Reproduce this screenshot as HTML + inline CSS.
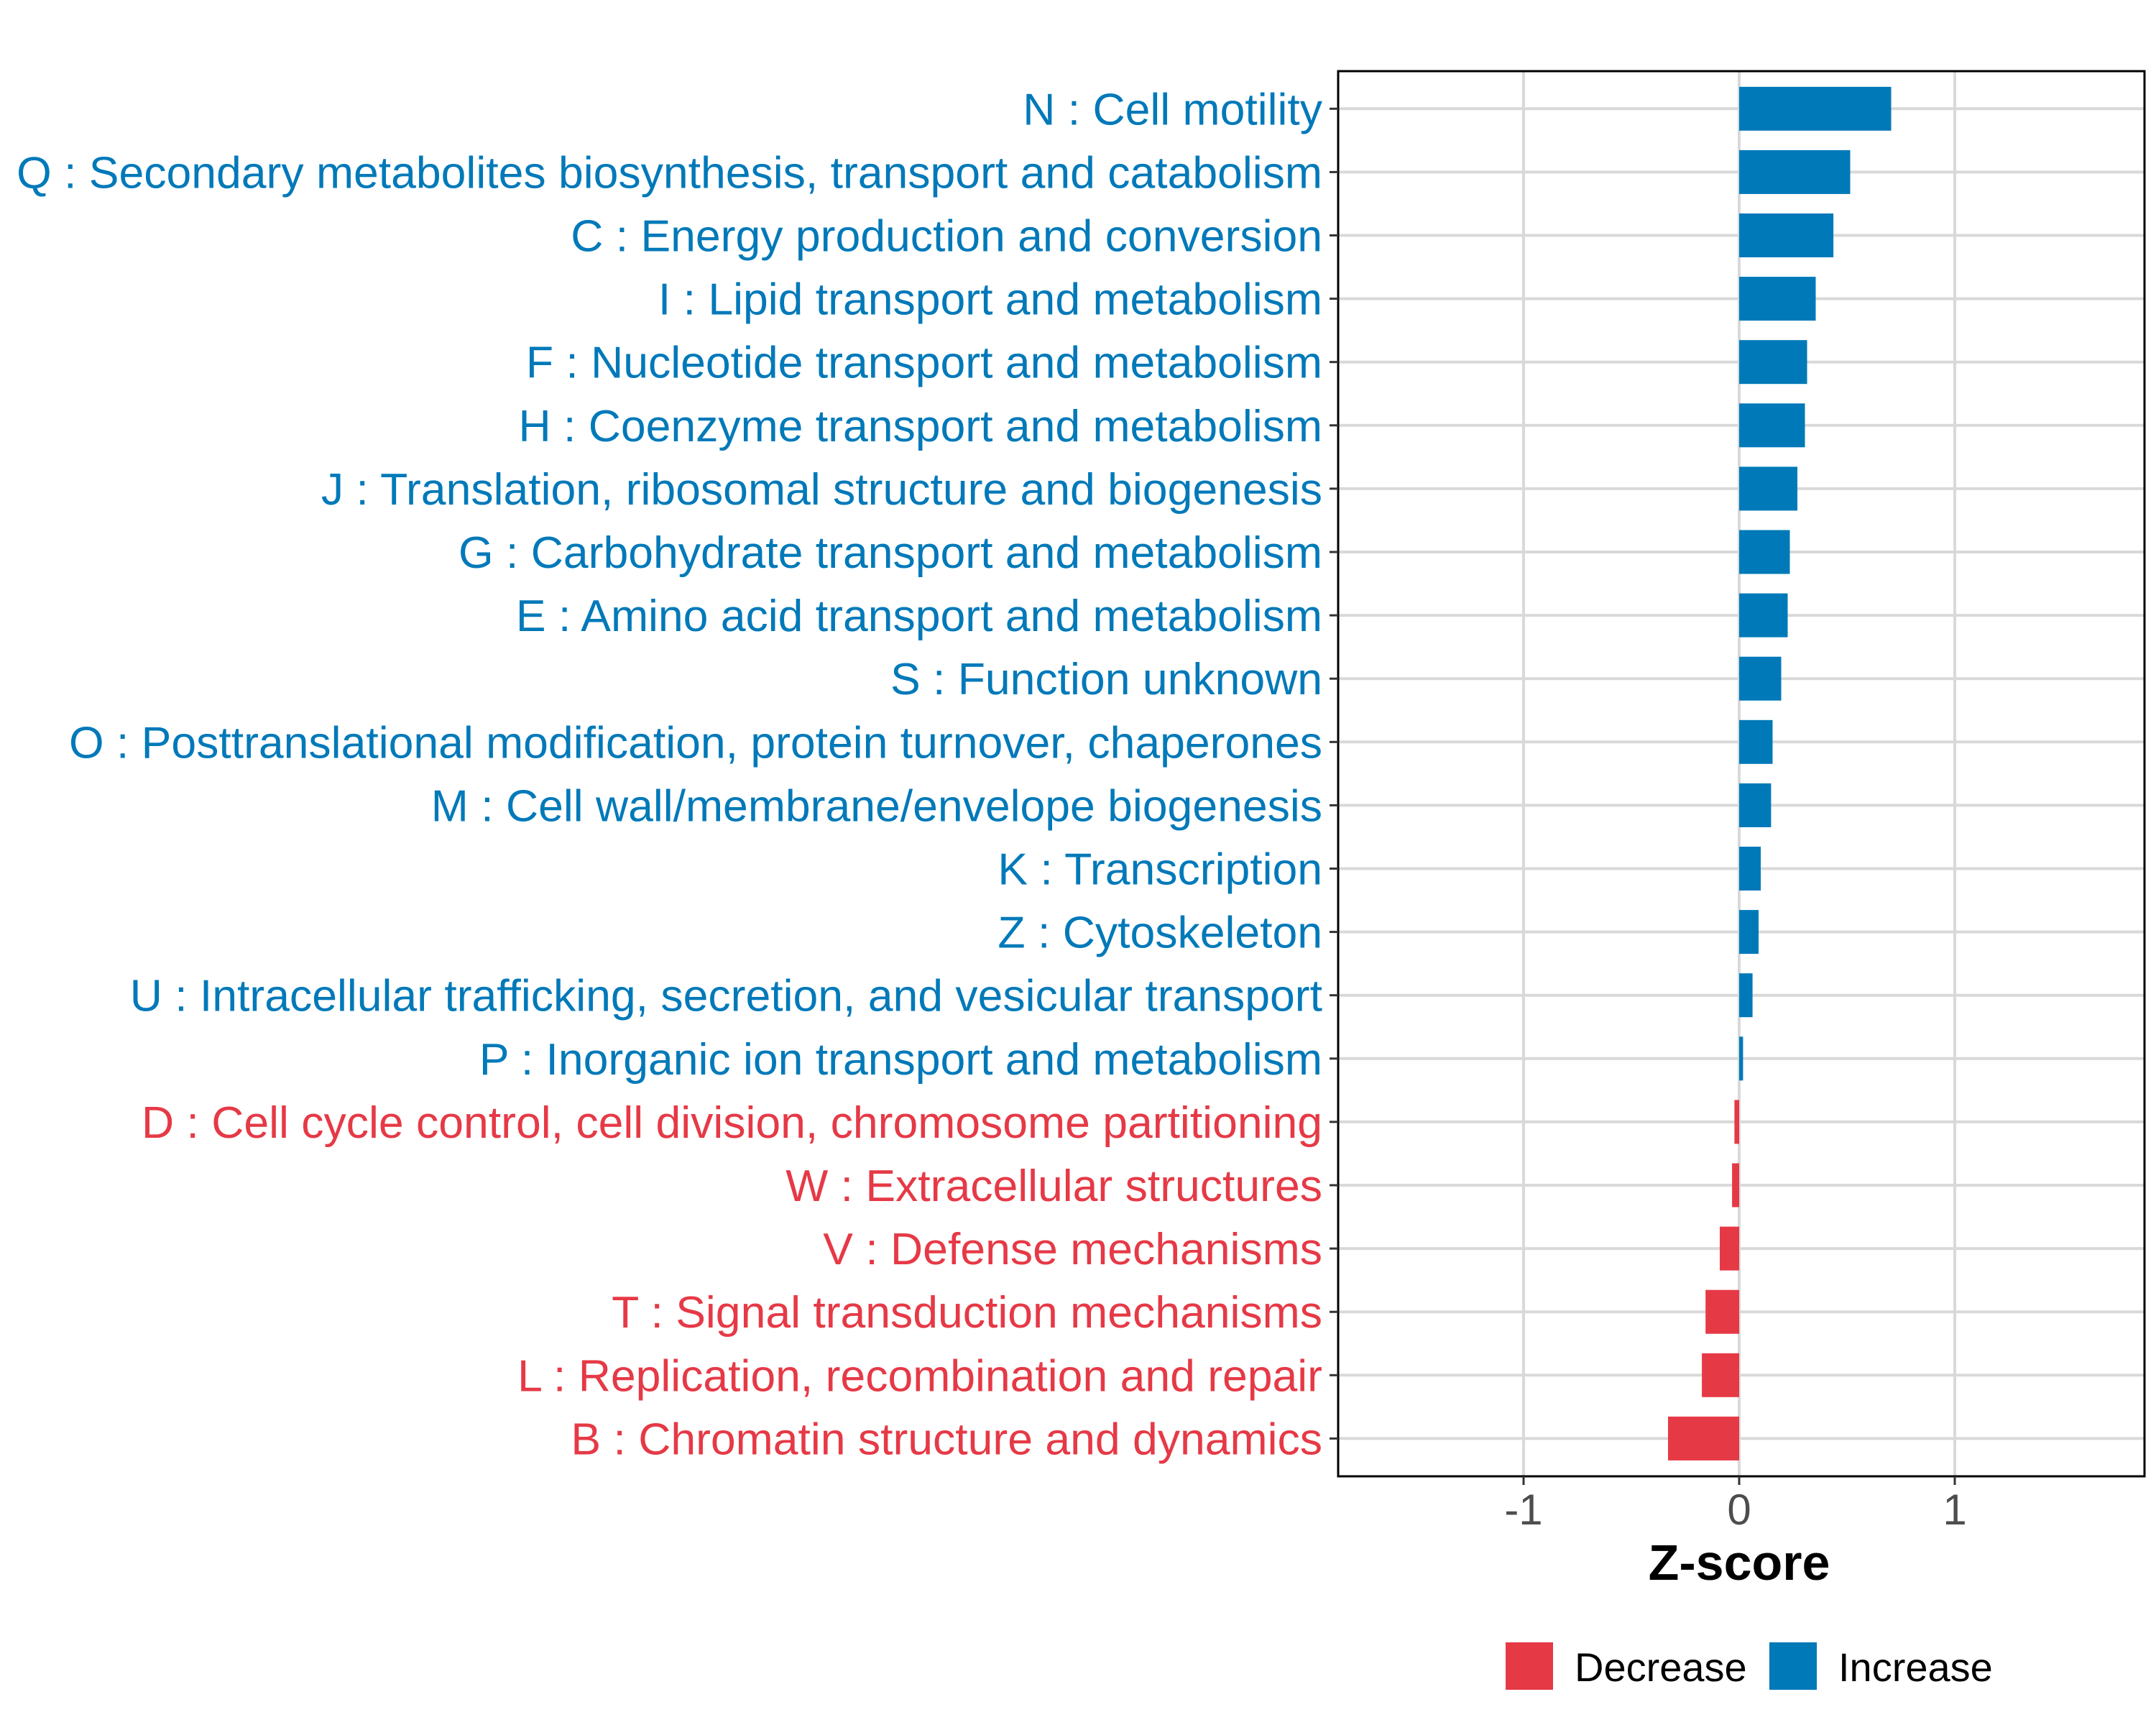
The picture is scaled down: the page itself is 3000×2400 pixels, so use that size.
<!DOCTYPE html>
<html><head><meta charset="utf-8"><style>
html,body{margin:0;padding:0;background:#fff;}
svg{display:block;font-family:"Liberation Sans",Arial,sans-serif;}
</style></head><body>
<svg id="chart" width="3000" height="2400" viewBox="0 0 3000 2400">
<g id="grid"></g>
<g id="bars"></g>
<rect x="1862" y="99" width="1122" height="1955" fill="none" stroke="#000" stroke-width="3"/>
<g id="ylabels"></g>
<g id="xticks"></g>
<text x="2420" y="2198" text-anchor="middle" font-size="70" font-weight="bold" fill="#000">Z-score</text>
<g>
<rect x="2095" y="2285" width="66" height="66" fill="#e63946"/>
<text x="2191" y="2339" font-size="56" fill="#000">Decrease</text>
<rect x="2462" y="2285" width="66" height="66" fill="#0079b9"/>
<text x="2558" y="2339" font-size="56" fill="#000">Increase</text>
</g>
</svg>
<script>
const categories = ["N : Cell motility","Q : Secondary metabolites biosynthesis, transport and catabolism","C : Energy production and conversion","I : Lipid transport and metabolism","F : Nucleotide transport and metabolism","H : Coenzyme transport and metabolism","J : Translation, ribosomal structure and biogenesis","G : Carbohydrate transport and metabolism","E : Amino acid transport and metabolism","S : Function unknown","O : Posttranslational modification, protein turnover, chaperones","M : Cell wall/membrane/envelope biogenesis","K : Transcription","Z : Cytoskeleton","U : Intracellular trafficking, secretion, and vesicular transport","P : Inorganic ion transport and metabolism","D : Cell cycle control, cell division, chromosome partitioning","W : Extracellular structures","V : Defense mechanisms","T : Signal transduction mechanisms","L : Replication, recombination and repair","B : Chromatin structure and dynamics"];
const zscores = [0.705,0.515,0.437,0.355,0.315,0.305,0.27,0.235,0.225,0.195,0.155,0.148,0.1,0.09,0.062,0.018,-0.022,-0.033,-0.09,-0.156,-0.173,-0.33];
const xTicks = [-1,0,1];
const xTickLabels = ["-1","0","1"];

const NS="http://www.w3.org/2000/svg";
const px0=1862, px1=2984, xmin=-1.86, xmax=1.88;
const yTop=151.3, yStep=88.1, barH=61;
const xs=v=>px0+(v-xmin)/(xmax-xmin)*(px1-px0);
const ys=i=>yTop+i*yStep;
const BLUE="#0079b9", RED="#e63946";
function mk(tag,attrs,parent){const e=document.createElementNS(NS,tag);for(const k in attrs)e.setAttribute(k,attrs[k]);parent.appendChild(e);return e;}
const grid=document.getElementById('grid'),bars=document.getElementById('bars'),yl=document.getElementById('ylabels'),xt=document.getElementById('xticks');
categories.forEach((c,i)=>{
  const y=ys(i);
  const g=mk('line',{x1:px0,x2:px1,y1:y,y2:y,stroke:'#d9d9d9','stroke-width':4},grid);
  
  
});
xTicks.forEach((t,i)=>{
  const x=xs(t);
  const g=mk('line',{x1:x,x2:x,y1:99,y2:2054,stroke:'#d9d9d9','stroke-width':4},grid);
  
  
  const tk=mk('line',{x1:x,x2:x,y1:2054,y2:2066,stroke:'#333','stroke-width':3},xt);
  
  
  const tl=mk('text',{x:x,y:2121,'text-anchor':'middle','font-size':60,fill:'#4d4d4d'},xt);
  tl.textContent=xTickLabels[i];
  
  
});
categories.forEach((c,i)=>{
  const v=zscores[i], y=ys(i), col=v>=0?BLUE:RED;
  const x0=xs(0), x1=xs(v);
  const r=mk('rect',{x:Math.min(x0,x1),y:y-barH/2,width:Math.max(Math.abs(x1-x0),1),height:barH,fill:col},bars);
  
  
  const tk=mk('line',{x1:1850,x2:1862,y1:y,y2:y,stroke:'#333','stroke-width':3},yl);
  
  
  const t=mk('text',{x:1840,y:y+22,'text-anchor':'end','font-size':62.5,fill:col},yl);
  t.textContent=c;
  
  
});
</script>
</body></html>
